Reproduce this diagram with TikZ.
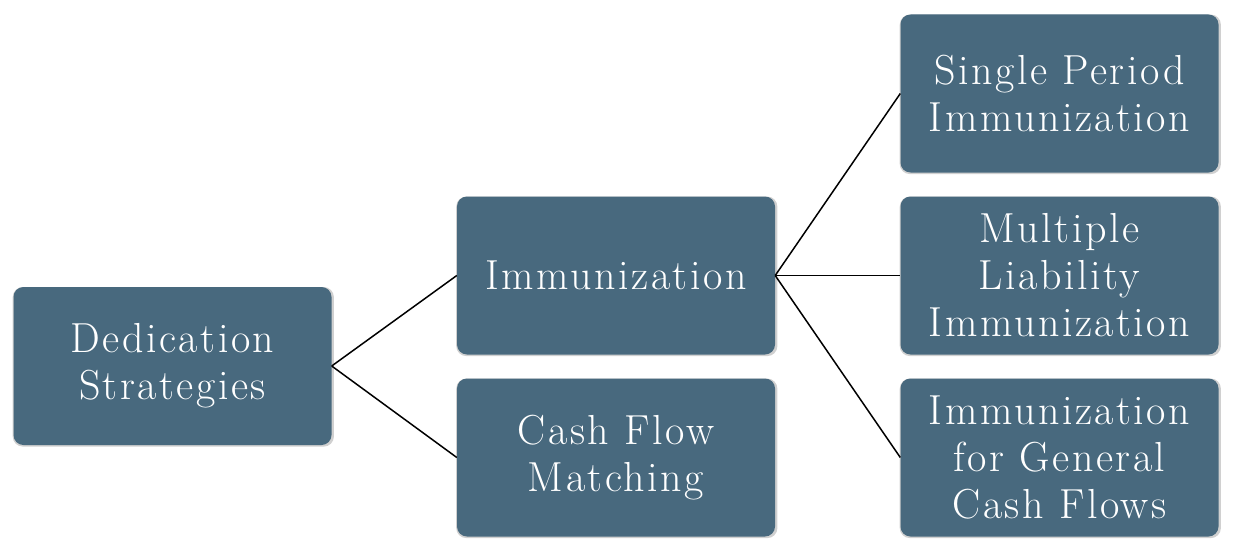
\documentclass[tikz,border=0pt]{standalone}
\usepackage{fontspec}
\setmainfont{Latin Modern Roman}[LetterSpace=6]
\usetikzlibrary{shadows}
\definecolor{boxfill}{RGB}{72,105,126}
\definecolor{boxshadow}{RGB}{120,120,120}
\begin{document}
\begin{tikzpicture}[x=1pt,y=-1pt,
  box/.style={rectangle, rounded corners=10pt, fill=boxfill,
    minimum width=318pt, minimum height=158pt, inner sep=0pt,
    text=white, align=center,
    font=\fontsize{42}{47}\selectfont,
    drop shadow={shadow xshift=0.8pt, shadow yshift=-0.8pt, opacity=0.35, fill=boxshadow, shadow scale=1.01}},
  link/.style={draw=black, line width=1.5pt}]
\useasboundingbox (0,0) rectangle (1233,551);
\node[box] (ded) at (172.5,366) {Dedication\\Strategies};
\node[box] (imm) at (616,275.5) {Immunization};
\node[box] (cfm) at (616,457.5) {Cash Flow\\Matching};
\node[box] (spi) at (1059.5,93.5) {Single Period\\Immunization};
\node[box] (mli) at (1059.5,275.5) {Multiple\\Liability\\Immunization};
\node[box] (igc) at (1059.5,457.5) {Immunization\\for General\\Cash Flows};
\draw[link] (ded.east) -- (imm.west);
\draw[link] (ded.east) -- (cfm.west);
\draw[link] (imm.east) -- (spi.west);
\draw[link] (imm.east) -- (mli.west);
\draw[link] (imm.east) -- (igc.west);
\end{tikzpicture}
\end{document}
